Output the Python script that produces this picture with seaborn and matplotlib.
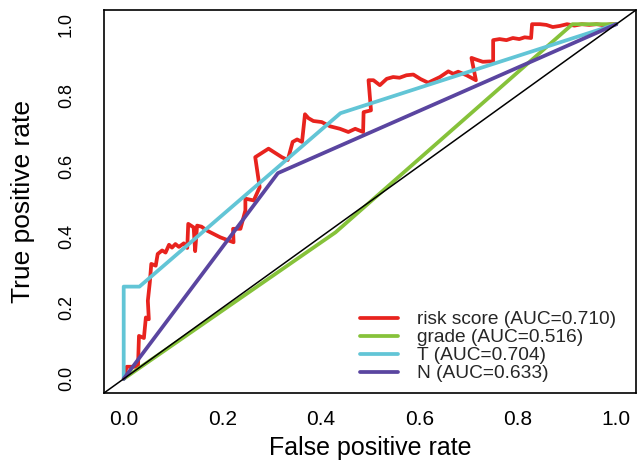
import matplotlib
matplotlib.use("Agg")
import matplotlib.pyplot as plt
import seaborn as sns
import pandas as pd

# ROC curve coordinates (false positive rate, true positive rate)
risk_fpr = [0, 0.006, 0.029, 0.031, 0.041, 0.045, 0.051, 0.049, 0.053, 0.056,
            0.065, 0.069, 0.078, 0.085, 0.092, 0.098, 0.105, 0.112, 0.122, 0.129,
            0.131, 0.142, 0.145, 0.149, 0.158, 0.169, 0.196, 0.213, 0.223, 0.222,
            0.237, 0.247, 0.247, 0.264, 0.276, 0.267, 0.294, 0.321, 0.333, 0.343,
            0.352, 0.362, 0.368, 0.375, 0.385, 0.402, 0.419, 0.439, 0.456, 0.470,
            0.486, 0.487, 0.502, 0.497, 0.507, 0.520, 0.534, 0.547, 0.560, 0.574,
            0.588, 0.603, 0.618, 0.642, 0.659, 0.669, 0.679, 0.696, 0.715, 0.706,
            0.716, 0.729, 0.743, 0.750, 0.750, 0.763, 0.777, 0.790, 0.803, 0.814,
            0.827, 0.829, 0.845, 0.858, 0.871, 0.885, 0.900, 0.915, 0.930, 0.945,
            0.960, 0.975, 0.990, 1.0]
risk_tpr = [0, 0.034, 0.034, 0.121, 0.115, 0.173, 0.168, 0.220, 0.272, 0.324,
            0.319, 0.352, 0.362, 0.356, 0.378, 0.370, 0.380, 0.372, 0.382, 0.369,
            0.437, 0.427, 0.360, 0.432, 0.429, 0.418, 0.399, 0.390, 0.385, 0.423,
            0.423, 0.475, 0.508, 0.503, 0.540, 0.625, 0.649, 0.625, 0.617, 0.668,
            0.675, 0.668, 0.746, 0.735, 0.727, 0.724, 0.712, 0.705, 0.696, 0.705,
            0.696, 0.752, 0.757, 0.842, 0.842, 0.828, 0.846, 0.851, 0.849, 0.856,
            0.858, 0.845, 0.835, 0.851, 0.867, 0.860, 0.866, 0.856, 0.842, 0.905,
            0.900, 0.894, 0.895, 0.894, 0.955, 0.958, 0.955, 0.961, 0.958, 0.963,
            0.961, 1.0, 1.0, 0.998, 0.992, 0.995, 1.0, 0.996, 1.0, 0.998,
            1.0, 0.997, 1.0, 1.0]

grade_fpr = [0, 0.43, 0.911, 1.0]
grade_tpr = [0, 0.413, 1.0, 1.0]

t_fpr = [0, 0, 0.032, 0.44, 1.0]
t_tpr = [0, 0.26, 0.26, 0.749, 1.0]

n_fpr = [0, 0.313, 1.0]
n_tpr = [0, 0.58, 1.0]

series_names = ["risk score", "grade", "T", "N"]
auc_values = [0.710, 0.516, 0.704, 0.633]
series_colors = ["#E8231E", "#86C23A", "#62C5D6", "#5A45A0"]

tick_values = [0.0, 0.2, 0.4, 0.6, 0.8, 1.0]
tick_labels = ["0.0", "0.2", "0.4", "0.6", "0.8", "1.0"]

frames = []
for name, fpr, tpr in zip(series_names,
                          [risk_fpr, grade_fpr, t_fpr, n_fpr],
                          [risk_tpr, grade_tpr, t_tpr, n_tpr]):
    frames.append(pd.DataFrame({"fpr": fpr, "tpr": tpr, "model": name,
                                "step": range(len(fpr))}))
roc = pd.concat(frames, ignore_index=True)

sns.set_theme(style="white")
plt.rcParams["font.family"] = ["Liberation Sans", "DejaVu Sans"]

fig = plt.figure(figsize=(6.43, 4.61), dpi=100)
ax = fig.add_axes([104 / 643, 68 / 461, 532 / 643, 383 / 461])

for name, color, auc in zip(series_names, series_colors, auc_values):
    sub = roc[roc["model"] == name]
    sns.lineplot(data=sub, x="fpr", y="tpr", sort=False, estimator=None,
                 color=color, linewidth=2.7, ax=ax,
                 label=f"{name} (AUC={auc:.3f})")

# reference diagonal
ax.axline((0, 0), (1, 1), color="black", linewidth=1.1, zorder=5)

ax.set_xlim(-0.04, 1.04)
ax.set_ylim(-0.04, 1.04)

for side in ["left", "right", "top", "bottom"]:
    ax.spines[side].set_visible(True)
    ax.spines[side].set_color("black")
    ax.spines[side].set_linewidth(1.2)

ax.set_xticks(tick_values)
ax.set_xticklabels(tick_labels)
ax.set_yticks(tick_values)
ax.set_yticklabels(tick_labels)
ax.tick_params(axis="both", direction="out", length=7, width=1.0,
               color="black", labelcolor="black")
ax.tick_params(axis="x", labelsize=15, pad=5)
ax.tick_params(axis="y", labelsize=13, pad=14)
for lab in ax.get_yticklabels():
    lab.set_rotation(90)
    lab.set_va("center")

ax.set_xlabel("False positive rate", fontsize=18, color="black")
ax.set_ylabel("True positive rate", fontsize=19, color="black")
ax.xaxis.set_label_coords(0.5, -0.112)
ax.yaxis.set_label_coords(-0.13, 0.5)

leg = ax.legend(loc="upper left", bbox_to_anchor=(0.481, 0.214), frameon=False,
                fontsize=13.8, handlelength=2.0, handletextpad=1.0,
                labelspacing=0.03, borderaxespad=0, borderpad=0)
for line in leg.get_lines():
    line.set_linewidth(2.7)

fig.savefig("out.png", dpi=100)
